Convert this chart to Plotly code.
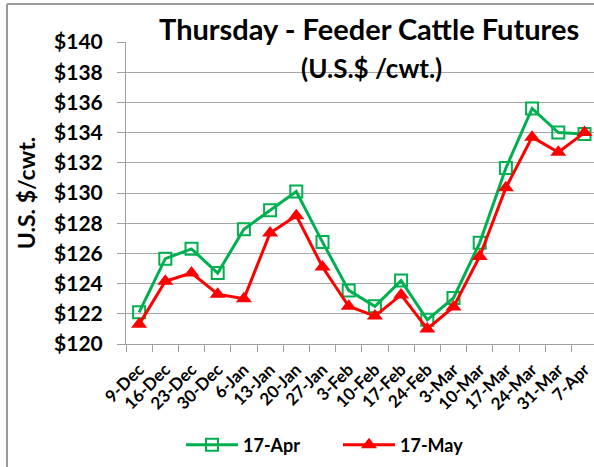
import plotly.graph_objects as go

categories = ["9-Dec", "16-Dec", "23-Dec", "30-Dec", "6-Jan", "13-Jan", "20-Jan", "27-Jan",
              "3-Feb", "10-Feb", "17-Feb", "24-Feb", "3-Mar", "10-Mar", "17-Mar", "24-Mar",
              "31-Mar", "7-Apr"]
apr17 = [122.1, 125.65, 126.3, 124.7, 127.6, 128.85, 130.1, 126.75, 123.55, 122.5, 124.2, 121.6,
         123.05, 126.7, 131.65, 135.6, 134.0, 133.9]
may17 = [121.3, 124.15, 124.7, 123.3, 123.0, 127.35, 128.5, 125.1, 122.5, 121.85, 123.25, 121.0,
         122.45, 125.8, 130.35, 133.7, 132.7, 134.0]
y_tickvals = [120, 122, 124, 126, 128, 130, 132, 134, 136, 138, 140]
y_ticktext = ["$" + str(v) for v in y_tickvals]

FONT = "Lato"
W, H = 594, 467
L, R, T, B = 126, 0, 42, 123
pw, ph = W - L - R, H - T - B

def px_to_paper(x, y):
    return (x - L) / pw, (H - B - y) / ph

fig = go.Figure()
fig.add_trace(go.Scatter(
    x=categories, y=apr17, name="17-Apr", mode="lines+markers",
    line=dict(color="#00B050", width=3),
    marker=dict(symbol="square-open", size=12, color="#00B050", line=dict(width=2, color="#00B050")),
))
fig.add_trace(go.Scatter(
    x=categories, y=may17, name="17-May", mode="lines+markers",
    line=dict(color="#FF0000", width=3),
    marker=dict(symbol="triangle-up", size=14, color="#FF0000"),
))

fig.update_layout(
    width=W, height=H,
    margin=dict(l=L, r=R, t=T, b=B, autoexpand=False),
    paper_bgcolor="white", plot_bgcolor="white",
    font=dict(family=FONT, color="black"),
    showlegend=True,
    legend=dict(orientation="h", x=px_to_paper(338, 0)[0], xanchor="center",
                y=px_to_paper(0, 445)[1], yanchor="middle",
                font=dict(size=18, family=FONT, weight="bold"), itemwidth=52,
                entrywidth=90, entrywidthmode="pixels",
                bgcolor="rgba(0,0,0,0)"),
    xaxis=dict(
        type="category", range=[-0.5, -0.5 + 18 * (pw / 471.6)],
        tickson="boundaries", ticks="outside", ticklen=7, tickcolor="#a0a0a0",
        ticklabelstandoff=8,
        showline=True, linecolor="#a0a0a0", linewidth=1,
        showgrid=False, tickangle=-45,
        tickfont=dict(size=17, family=FONT, weight="bold"),
    ),
    yaxis=dict(
        range=[120, 140], tickvals=y_tickvals, ticktext=y_ticktext,
        ticks="outside", ticklen=8, tickcolor="#a0a0a0", ticklabelstandoff=10,
        showline=True, linecolor="#a0a0a0", linewidth=1,
        showgrid=True, gridcolor="#a6a6a6", gridwidth=1,
        tickfont=dict(size=21, family=FONT, weight="bold"),
        title=dict(text="U.S. $/cwt.", font=dict(size=23, family=FONT, weight="bold"), standoff=12),
    ),
)

tx, ty = px_to_paper(369, 29)
fig.add_annotation(text="<b>Thursday - Feeder Cattle Futures</b>", xref="paper", yref="paper",
                   x=tx, y=ty, xanchor="center", yanchor="middle", showarrow=False,
                   font=dict(size=29, family=FONT, color="black"))
sx, sy = px_to_paper(371, 68)
fig.add_annotation(text="<b>(U.S.$ /cwt.)</b>", xref="paper", yref="paper",
                   x=sx, y=sy, xanchor="center", yanchor="middle", showarrow=False,
                   font=dict(size=26, family=FONT, color="black"))

# outer chart border (left and top edges visible)
x0, y0 = px_to_paper(7, 4)
x1, y1 = px_to_paper(W + 5, H + 5)
fig.add_shape(type="line", xref="paper", yref="paper", x0=x0, y0=y0, x1=x0, y1=y1,
              line=dict(color="#9a9a9a", width=2))
fig.add_shape(type="line", xref="paper", yref="paper", x0=x0, y0=y0, x1=x1, y1=y0,
              line=dict(color="#9a9a9a", width=2))

fig.write_html("out.html", config={"displayModeBar": False},
               post_script="document.body.style.margin='0px';document.body.style.overflow='hidden';")
